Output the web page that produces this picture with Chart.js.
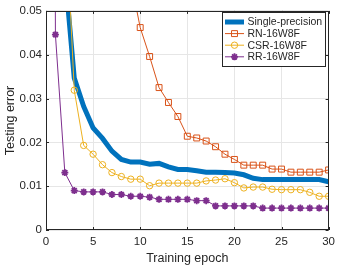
<!DOCTYPE html>
<html>
<head>
<meta charset="utf-8">
<script src="https://cdn.jsdelivr.net/npm/chart.js@4"></script>
<style>
  html, body { margin: 0; padding: 0; background: #fff; }
  #wrap { width: 340px; height: 266px; position: relative; }
</style>
</head>
<body>
<div id="wrap"><canvas id="chart"></canvas></div>
<script>
// epochs 0..30
const epochs = [0, 1, 2, 3, 4, 5, 6, 7, 8, 9, 10, 11, 12, 13, 14, 15, 16, 17, 18, 19, 20,
  21, 22, 23, 24, 25, 26, 27, 28, 29, 30];

const singlePrecision = [0.9, 0.3, 0.059, 0.0347, 0.0282, 0.0233, 0.0209, 0.0180, 0.0161, 0.0155,
  0.0155, 0.0150, 0.0152, 0.0144, 0.0138, 0.0138, 0.0135, 0.0132, 0.0132, 0.0131, 0.0130,
  0.0126, 0.0118, 0.0115, 0.0115, 0.0115, 0.0115, 0.0115, 0.0115, 0.0115, 0.0110];

const rn16w8f = [0.9, 0.88, 0.8, 0.6, 0.4, 0.25, 0.15, 0.1, 0.075, 0.057,
  0.0462, 0.0396, 0.0325, 0.0291, 0.0259, 0.0214, 0.0210, 0.0203, 0.0190, 0.0173, 0.0161,
  0.0148, 0.0148, 0.0148, 0.0139, 0.0139, 0.0132, 0.0132, 0.0132, 0.0132, 0.0137];

const csr16w8f = [0.9, 0.3, 0.077, 0.0319, 0.0193, 0.0173, 0.0149, 0.0131, 0.0122, 0.0116,
  0.0116, 0.0101, 0.0107, 0.0107, 0.0107, 0.0107, 0.0107, 0.0112, 0.0114, 0.0117, 0.0108,
  0.0096, 0.0098, 0.0098, 0.0093, 0.0092, 0.0092, 0.0092, 0.0086, 0.0077, 0.0077];

const rr16w8f = [0.9, 0.0446, 0.0131, 0.0090, 0.0087, 0.0087, 0.0087, 0.0081, 0.0081, 0.0077,
  0.0077, 0.0075, 0.0070, 0.0070, 0.0070, 0.0070, 0.0067, 0.0067, 0.0055, 0.0055, 0.0055,
  0.0055, 0.0055, 0.0050, 0.0050, 0.0050, 0.0050, 0.0050, 0.0050, 0.0050, 0.0050];

const seriesNames = ["Single-precision", "RN-16W8F", "CSR-16W8F", "RR-16W8F"];
const xTicks = [0, 5, 10, 15, 20, 25, 30];
const yTicks = [0, 0.01, 0.02, 0.03, 0.04, 0.05];

const axisColor = "#262626";
const fontFamily = "'Liberation Sans', Arial, Helvetica, sans-serif";

function pts(values) {
  return epochs.map((e, i) => ({ x: e, y: values[i] }));
}

const datasets = [
  {
    label: seriesNames[0], data: pts(singlePrecision),
    borderColor: "#0072BD", borderWidth: 5, pointRadius: 0, order: 4
  },
  {
    label: seriesNames[1], data: pts(rn16w8f),
    borderColor: "#D95319", borderWidth: 1, pointStyle: "rect", pointRadius: 4.2,
    pointBorderWidth: 1, pointBackgroundColor: "rgba(0,0,0,0)", order: 3
  },
  {
    label: seriesNames[2], data: pts(csr16w8f),
    borderColor: "#EDB120", borderWidth: 1, pointStyle: "circle", pointRadius: 3.2,
    pointBorderWidth: 1, pointBackgroundColor: "rgba(0,0,0,0)", order: 2
  },
  {
    label: seriesNames[3], data: pts(rr16w8f),
    borderColor: "#7E2F8E", borderWidth: 1, pointStyle: "star", pointRadius: 3.5,
    pointBorderWidth: 1.8, pointBackgroundColor: "rgba(0,0,0,0)", order: 1
  }
];
datasets.forEach(d => { d.pointBorderColor = d.borderColor; d.tension = 0; d.fill = false; });

// box round the plot plus inward tick marks, like the original figure
const framePlugin = {
  id: "frame",
  afterDatasetsDraw(chart) {
    const { ctx, chartArea: a, scales } = chart;
    ctx.save();
    ctx.strokeStyle = axisColor;
    ctx.lineWidth = 1;
    ctx.strokeRect(Math.round(a.left) + 0.5, Math.round(a.top) + 0.5,
      Math.round(a.right - a.left) - 1, Math.round(a.bottom - a.top) - 1);
    ctx.beginPath();
    xTicks.forEach(v => {
      const x = Math.round(scales.x.getPixelForValue(v)) + 0.5;
      ctx.moveTo(x, a.bottom); ctx.lineTo(x, a.bottom - 3);
      ctx.moveTo(x, a.top); ctx.lineTo(x, a.top + 3);
    });
    yTicks.forEach(v => {
      const y = Math.round(scales.y.getPixelForValue(v)) + 0.5;
      ctx.moveTo(a.left, y); ctx.lineTo(a.left + 3, y);
      ctx.moveTo(a.right, y); ctx.lineTo(a.right - 3, y);
    });
    ctx.stroke();
    ctx.restore();
  }
};

// legend box at upper right of the plot
const legendPlugin = {
  id: "boxLegend",
  afterDraw(chart) {
    const { ctx } = chart;
    const x0 = 222.5, y0 = 12.5, w = 103, h = 54;
    ctx.save();
    ctx.fillStyle = "#fff";
    ctx.fillRect(x0, y0, w, h);
    ctx.strokeStyle = axisColor;
    ctx.lineWidth = 1;
    ctx.strokeRect(x0, y0, w, h);
    ctx.font = "10.5px " + fontFamily;
    ctx.textBaseline = "middle";
    ctx.textAlign = "left";
    chart.data.datasets.forEach((d, i) => {
      const y = y0 + 9.5 + i * 11.6;
      ctx.strokeStyle = d.borderColor;
      ctx.lineWidth = d.borderWidth;
      ctx.beginPath();
      ctx.moveTo(x0 + 2.5, y); ctx.lineTo(x0 + 21.5, y);
      ctx.stroke();
      if (d.pointRadius > 0) {
        ctx.fillStyle = "rgba(0,0,0,0)";
        ctx.strokeStyle = d.borderColor;
        ctx.lineWidth = d.pointBorderWidth;
        Chart.helpers.drawPoint(ctx, {
          pointStyle: d.pointStyle, radius: d.pointRadius, rotation: 0,
          borderWidth: d.pointBorderWidth
        }, x0 + 12, y);
      }
      ctx.fillStyle = axisColor;
      ctx.fillText(d.label, x0 + 25, y + 0.5);
    });
    ctx.restore();
  }
};

new Chart(document.getElementById("chart").getContext("2d"), {
  type: "line",
  data: { datasets },
  options: {
    responsive: true,
    maintainAspectRatio: false,
    animation: false,
    devicePixelRatio: 1,
    layout: { padding: { left: 0, right: 10, top: 8, bottom: 0 } },
    plugins: { legend: { display: false }, tooltip: { enabled: false } },
    scales: {
      x: {
        type: "linear", min: 0, max: 30,
        afterBuildTicks: s => { s.ticks = xTicks.map(v => ({ value: v })); },
        afterFit: s => { s.height = 36; },
        grid: { color: "#e6e6e6", drawTicks: false },
        border: { display: false },
        ticks: { color: axisColor, padding: 5, maxRotation: 0,
          font: { family: fontFamily, size: 11.5 } },
        title: { display: true, text: "Training epoch", color: axisColor,
          padding: { top: 3, bottom: 0 }, font: { family: fontFamily, size: 12.5 } }
      },
      y: {
        min: 0, max: 0.05,
        afterBuildTicks: s => { s.ticks = yTicks.map(v => ({ value: v })); },
        afterFit: s => { s.width = 46; },
        grid: { color: "#e6e6e6", drawTicks: false },
        border: { display: false },
        ticks: { color: axisColor, padding: 4,
          font: { family: fontFamily, size: 11.5 },
          callback: v => (v === 0 ? "0" : v.toFixed(2)) },
        title: { display: true, text: "Testing error", color: axisColor,
          padding: { top: 3, bottom: 0 }, font: { family: fontFamily, size: 12.5 } }
      }
    }
  },
  plugins: [framePlugin, legendPlugin]
});
</script>
</body>
</html>
